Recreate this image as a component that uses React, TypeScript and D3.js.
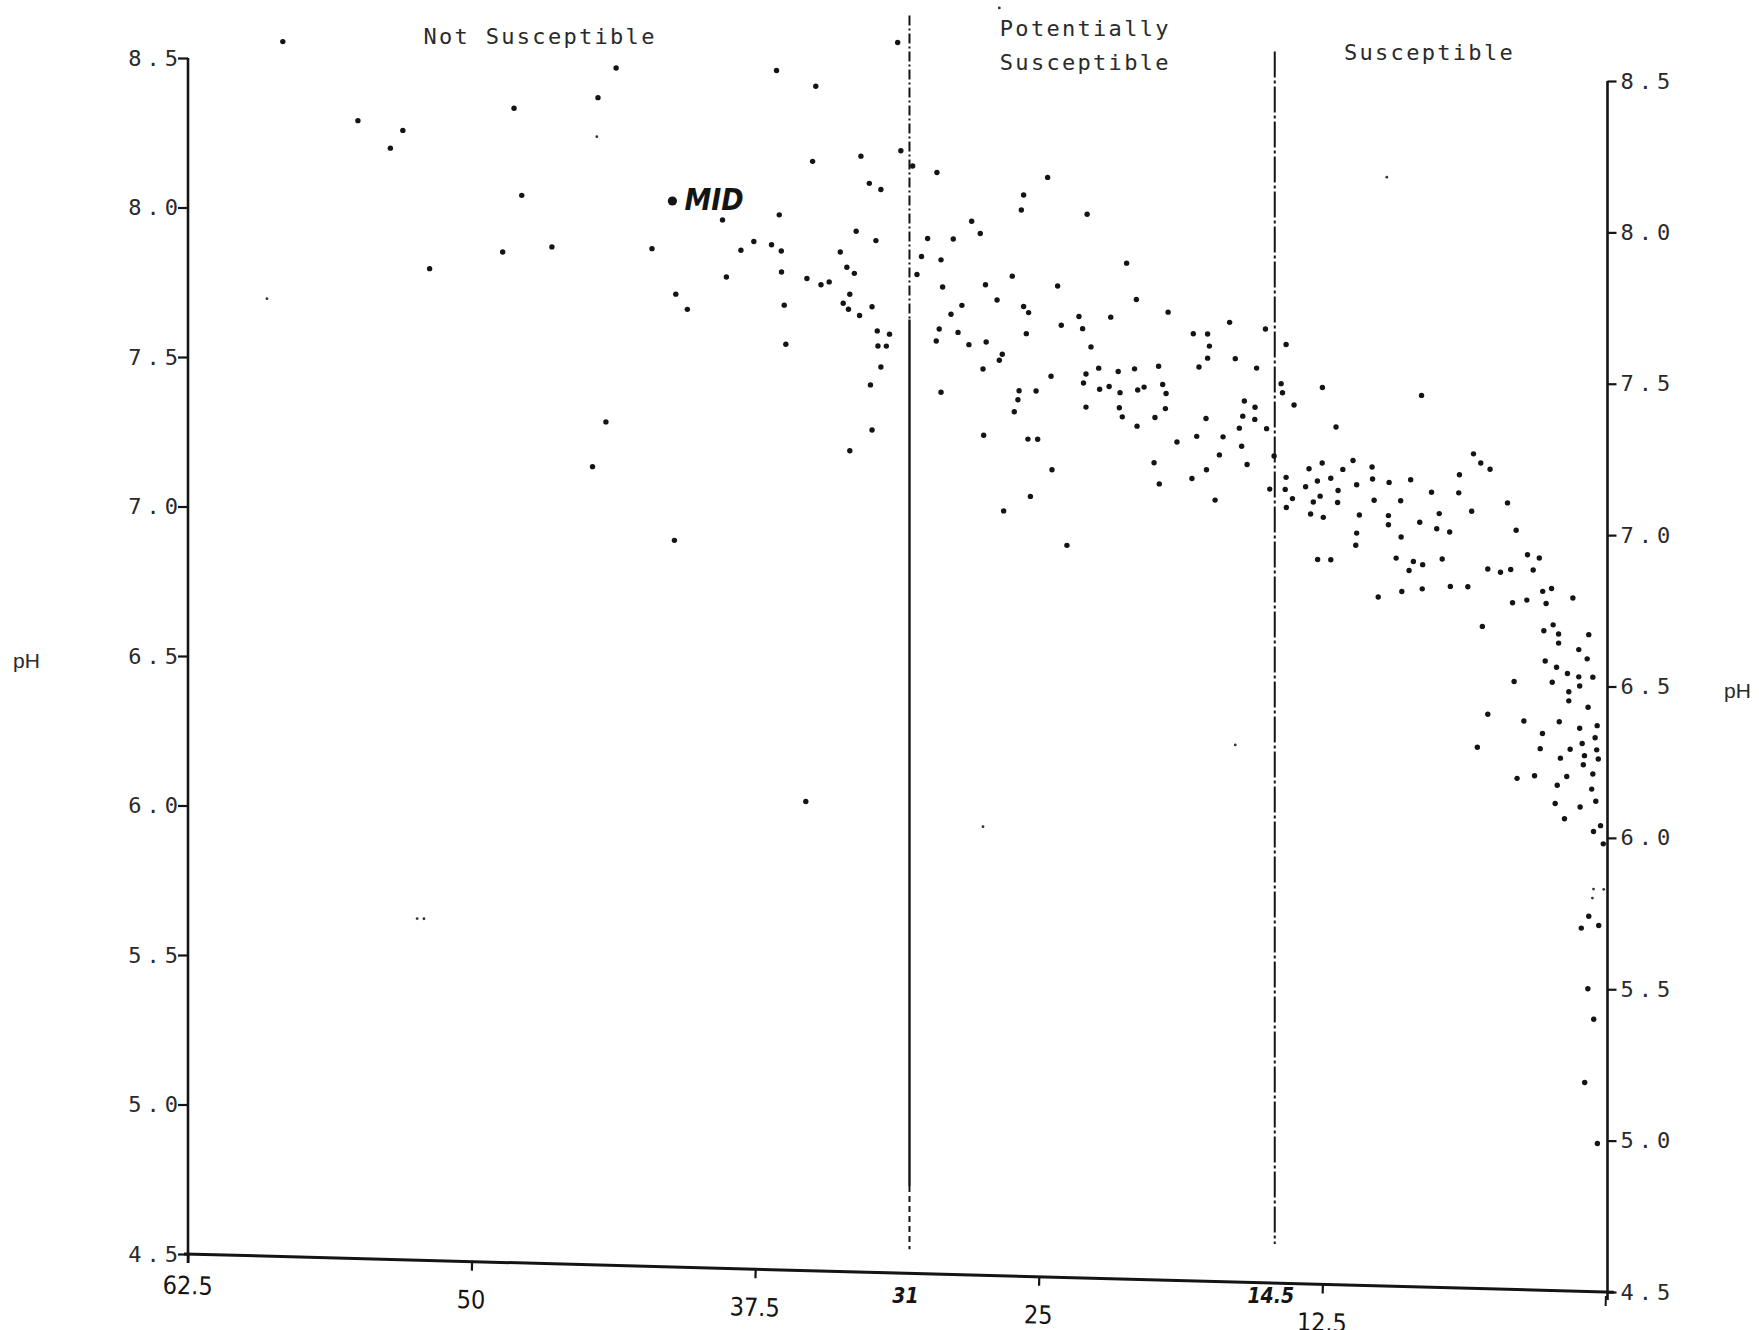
import React, { useEffect, useRef } from 'react';
import * as d3 from 'd3';

const WIDTH = 1759;
const HEIGHT = 1330;
const INK = '#141414';
const MONO = '"DejaVu Sans Mono", monospace';
const COND = '"DejaVu Sans Condensed", "Liberation Sans Narrow", sans-serif';

// samples: [x value (62.5 on the left down to 0 on the right), pH]
const samplesLeft: [number, number][] = [
  [58.32, 8.56], [55.01, 8.3], [53.58, 8.21], [53.03, 8.27], [51.85, 7.81], [48.13, 8.35],
  [47.79, 8.06], [48.63, 7.87], [46.46, 7.89], [44.43, 8.39], [43.63, 8.49], [44.08, 7.31],
  [44.67, 7.16], [41.06, 6.92], [35.27, 6.06], [31.22, 8.59], [36.56, 8.49], [34.83, 8.44],
  [42.05, 7.89], [41.0, 7.74], [40.49, 7.69], [38.94, 7.99], [38.77, 7.8], [38.13, 7.89],
  [37.56, 7.92], [36.78, 7.91], [36.44, 8.01], [36.35, 7.89], [36.34, 7.82], [36.22, 7.71],
  [36.15, 7.58], [35.22, 7.8], [34.97, 8.19], [34.6, 7.78], [34.24, 7.79], [33.75, 7.89],
  [33.62, 7.72], [33.46, 7.84], [33.39, 7.7], [33.33, 7.75], [33.13, 7.82], [33.05, 7.96],
  [32.9, 7.68], [32.84, 8.21], [32.47, 8.12], [32.35, 7.71], [32.18, 7.93], [32.12, 7.63],
  [32.09, 7.58], [31.96, 8.1], [31.96, 7.51], [31.72, 7.58], [31.58, 7.62], [32.42, 7.45],
  [32.35, 7.3], [33.33, 7.23],
];

const samplesMiddle: [number, number][] = [
  [31.08, 8.23], [30.56, 8.18], [30.37, 7.82], [30.17, 7.88], [29.9, 7.94], [29.49, 8.16],
  [29.39, 7.64], [29.52, 7.6], [29.31, 7.87], [29.24, 7.78], [29.31, 7.43], [28.87, 7.69],
  [28.77, 7.94], [28.56, 7.63], [28.39, 7.72], [28.08, 7.59], [27.96, 8.0], [27.58, 7.96],
  [27.46, 7.51], [27.43, 7.29], [27.35, 7.79], [27.32, 7.6], [26.84, 7.74], [26.74, 7.54],
  [26.61, 7.56], [26.55, 7.04], [26.17, 7.82], [26.08, 7.37], [25.92, 7.41], [25.87, 7.44],
  [25.77, 8.04], [25.67, 8.09], [25.67, 7.72], [25.55, 7.63], [25.45, 7.7], [25.48, 7.28],
  [25.37, 7.09], [25.12, 7.44], [25.05, 7.28], [24.61, 8.15], [24.46, 7.49], [24.42, 7.18],
  [24.17, 7.79], [24.01, 7.66], [23.23, 7.69], [23.07, 7.65], [22.87, 8.03], [22.7, 7.59],
  [22.92, 7.5], [23.03, 7.47], [22.92, 7.39], [22.36, 7.52], [22.32, 7.45], [23.76, 6.93],
  [21.13, 7.87], [21.83, 7.69], [20.7, 7.75], [19.3, 7.71], [18.19, 7.64], [17.56, 7.64],
  [17.48, 7.6], [17.56, 7.56], [17.94, 7.53], [16.59, 7.68], [16.34, 7.56], [15.01, 7.66],
  [15.4, 7.53], [14.1, 7.61], [14.32, 7.48], [14.26, 7.45], [13.75, 7.41], [12.5, 7.47],
  [8.13, 7.45], [11.9, 7.34], [21.5, 7.51], [20.78, 7.52], [19.72, 7.53], [21.9, 7.46],
  [21.42, 7.44], [20.64, 7.45], [20.36, 7.46], [19.54, 7.47], [19.39, 7.44], [21.45, 7.39],
  [21.32, 7.36], [20.67, 7.33], [19.88, 7.36], [19.42, 7.39], [18.91, 7.28], [19.92, 7.21],
  [19.69, 7.14], [18.04, 7.3], [17.63, 7.36], [16.88, 7.3], [17.04, 7.24], [17.61, 7.19],
  [18.25, 7.16], [17.23, 7.09], [15.94, 7.42], [16.01, 7.37], [15.47, 7.4], [15.48, 7.36],
  [16.16, 7.33], [16.06, 7.27], [15.82, 7.21], [14.96, 7.33], [14.63, 7.24], [14.82, 7.13],
];

const samplesRight: [number, number][] = [
  [14.1, 7.17], [14.14, 7.13], [13.82, 7.1], [14.09, 7.07], [13.24, 7.14], [13.09, 7.2],
  [12.72, 7.16], [12.51, 7.22], [12.13, 7.17], [11.81, 7.13], [11.6, 7.2], [11.15, 7.23],
  [10.99, 7.15], [10.31, 7.21], [10.29, 7.17], [9.56, 7.16], [8.61, 7.17], [10.22, 7.1],
  [9.05, 7.1], [7.69, 7.13], [6.46, 7.19], [6.49, 7.13], [7.35, 7.06], [7.46, 7.01],
  [6.89, 7.0], [8.21, 7.03], [9.59, 7.05], [9.59, 7.02], [9.03, 6.98], [10.87, 7.05],
  [10.99, 6.99], [11.03, 6.95], [11.83, 7.09], [12.6, 7.11], [12.46, 7.04], [12.9, 7.09],
  [13.02, 7.05], [5.84, 7.26], [5.52, 7.23], [5.11, 7.21], [5.92, 7.07], [4.34, 7.1],
  [3.96, 7.01], [3.46, 6.93], [2.94, 6.92], [3.21, 6.88], [4.2, 6.88], [4.65, 6.87],
  [5.21, 6.88], [6.09, 6.82], [2.79, 6.81], [2.4, 6.82], [2.64, 6.77], [1.46, 6.79],
  [3.49, 6.78], [4.12, 6.77], [5.45, 6.69], [2.74, 6.68], [2.33, 6.7], [2.09, 6.67],
  [2.09, 6.64], [0.76, 6.67], [1.2, 6.62], [0.83, 6.59], [2.68, 6.58], [2.18, 6.56],
  [1.7, 6.54], [1.2, 6.53], [0.58, 6.53], [2.37, 6.51], [1.16, 6.5], [1.64, 6.48],
  [1.64, 6.45], [0.79, 6.43], [4.05, 6.51], [5.21, 6.4], [3.62, 6.38], [2.06, 6.38],
  [1.16, 6.36], [0.39, 6.37], [2.8, 6.34], [0.48, 6.33], [5.67, 6.29], [2.9, 6.29],
  [1.58, 6.29], [1.05, 6.31], [0.41, 6.29], [2.01, 6.26], [0.95, 6.27], [0.34, 6.26],
  [1.0, 6.24], [3.92, 6.19], [3.15, 6.2], [1.73, 6.2], [0.58, 6.21], [12.71, 6.9],
  [12.13, 6.9], [10.04, 6.78], [9.0, 6.8], [8.1, 6.81], [9.25, 6.91], [8.49, 6.9],
  [8.68, 6.87], [8.08, 6.89], [7.22, 6.91], [6.86, 6.82], [2.15, 6.17], [0.63, 6.16],
  [2.24, 6.11], [1.14, 6.1], [0.45, 6.12], [1.83, 6.06], [0.24, 6.04], [0.55, 6.02],
  [0.12, 5.98], [0.76, 5.74], [1.09, 5.7], [0.32, 5.71], [0.8, 5.5], [0.54, 5.4],
  [0.94, 5.19], [0.38, 4.99],
];

// faint specks in the scan
const faintSamples: [number, number][] = [
  [59.02, 7.7], [44.48, 8.26], [52.4, 5.64], [52.1, 5.64], [27.46, 5.99], [16.34, 6.28],
  [9.66, 8.17], [26.74, 8.71], [0.55, 5.83], [0.1, 5.83], [0.6, 5.8],
];

const midPoint: [number, number] = [41.15, 8.05];

const phTicks = [4.5, 5.0, 5.5, 6.0, 6.5, 7.0, 7.5, 8.0, 8.5];
const xTicks = [62.5, 50, 37.5, 25, 12.5];

const cutoffs = [
  { value: 30.7, label: '31', top: 8.68, solidTop: 7.67, solidBottom: 4.79, bottom: 4.58 },
  { value: 14.6, label: '14.5', top: 8.58, solidTop: 8.58, solidBottom: 8.58, bottom: 4.63 },
];

const zones = [
  { lines: ['Not Susceptible'], center: 46.98 },
  { lines: ['Potentially', 'Susceptible'], center: 22.95 },
  { lines: ['Susceptible'], center: 7.78 },
];
const zoneTop = [44, 36, 60];

const App = () => {
  const svgRef = useRef<SVGSVGElement | null>(null);

  useEffect(() => {
    const svg = d3.select(svgRef.current);
    svg.selectAll('*').remove();

    const x = d3.scaleLinear().domain([62.5, 0]).range([188, 1606]);
    const yLeft = d3.scaleLinear().domain([4.5, 8.5]).range([1254, 58]);
    const yRight = d3.scaleLinear().domain([4.5, 8.5]).range([1292, 81]);
    const across = d3.scaleLinear().domain([62.5, 0]).range([0, 1]);

    // the scanned page is slightly skewed: blend left and right pH scales
    const py = (v: number, ph: number) =>
      d3.interpolateNumber(yLeft(ph), yRight(ph))(across(v));

    const [x0, x1] = x.range();
    const fmt = d3.format('.1f');

    // left pH axis
    svg.append('line')
      .attr('x1', x0).attr('x2', x0)
      .attr('y1', yLeft(8.5)).attr('y2', yLeft(4.5) + 9)
      .attr('stroke', INK).attr('stroke-width', 2.6);
    const gl = svg.append('g')
      .attr('transform', `translate(${x0},0)`)
      .call(d3.axisLeft(yLeft).tickValues(phTicks).tickFormat((d) => fmt(+d)).tickSize(10));
    gl.select('.domain').remove();
    gl.selectAll('line').attr('stroke', INK).attr('stroke-width', 2.2);
    gl.selectAll('text')
      .attr('x', -5)
      .attr('font-family', MONO).attr('font-size', 22)
      .attr('letter-spacing', 5).attr('fill', '#2a2a2a');

    // right pH axis
    svg.append('line')
      .attr('x1', x1 + 1.5).attr('x2', x1 + 1.5)
      .attr('y1', yRight(8.5)).attr('y2', yRight(4.5) + 8)
      .attr('stroke', INK).attr('stroke-width', 2.6);
    const gr = svg.append('g')
      .attr('transform', `translate(${x1 + 1.5},0)`)
      .call(d3.axisRight(yRight).tickValues(phTicks).tickFormat((d) => fmt(+d)).tickSize(9).tickPadding(4));
    gr.select('.domain').remove();
    gr.selectAll('line').attr('stroke', INK).attr('stroke-width', 2.2);
    gr.selectAll('text')
      .attr('font-family', MONO).attr('font-size', 22)
      .attr('letter-spacing', 5).attr('fill', '#2a2a2a');

    // bottom axis, running along the skewed baseline
    const bx0 = x0;
    const by0 = py(62.5, 4.5);
    const by1 = py(0, 4.5);
    const len = Math.hypot(x1 - x0, by1 - by0);
    const angle = (Math.atan2(by1 - by0, x1 - x0) * 180) / Math.PI;
    const xAlong = d3.scaleLinear().domain([62.5, 0]).range([0, len]);
    const gb = svg.append('g')
      .attr('transform', `translate(${bx0},${by0}) rotate(${angle})`)
      .call(d3.axisBottom(xAlong).tickValues(xTicks).tickFormat((d) => `${d}`).tickSize(9).tickPadding(20));
    gb.select('.domain').remove();
    gb.append('line')
      .attr('x1', -4).attr('x2', len + 8)
      .attr('stroke', INK).attr('stroke-width', 3);
    gb.append('line')
      .attr('x1', len).attr('x2', len).attr('y1', 4).attr('y2', 14)
      .attr('stroke', INK).attr('stroke-width', 2);
    gb.selectAll('.tick line').attr('stroke', INK).attr('stroke-width', 2.2);
    gb.selectAll('.tick text')
      .attr('dy', (d) => (d === 62.5 ? '0.45em' : '0.71em'))
      .attr('font-family', COND).attr('font-size', 25)
      .attr('fill', INK);

    // cut-off lines between zones
    cutoffs.forEach((c) => {
      const cx = x(c.value);
      const seg = (a: number, b: number, dash: string | null, w: number) => {
        if (a === b) return;
        svg.append('line')
          .attr('x1', cx).attr('x2', cx)
          .attr('y1', py(c.value, a)).attr('y2', py(c.value, b))
          .attr('stroke', INK).attr('stroke-width', w)
          .attr('stroke-dasharray', dash);
      };
      if (c.solidTop === c.solidBottom) {
        seg(c.top, c.bottom, '26 3 3 3', 2);
      } else {
        seg(c.top, c.solidTop, '10 3 2 3', 2);
        seg(c.solidTop, c.solidBottom, null, 2.4);
        seg(c.solidBottom, c.bottom, '6 4', 2);
      }
      svg.append('text')
        .attr('x', cx - 4).attr('y', 1303)
        .attr('text-anchor', 'middle')
        .attr('font-family', COND).attr('font-size', 21)
        .attr('font-weight', 'bold').attr('font-style', 'italic')
        .attr('fill', INK)
        .text(c.label);
    });

    // zone titles
    zones.forEach((z, i) => {
      z.lines.forEach((line, j) => {
        svg.append('text')
          .attr('x', x(z.center)).attr('y', zoneTop[i] + j * 34)
          .attr('text-anchor', 'middle')
          .attr('font-family', MONO).attr('font-size', 22)
          .attr('letter-spacing', 2.3).attr('fill', '#2a2a2a')
          .text(line);
      });
    });

    // pH labels
    svg.append('text')
      .attr('x', 13).attr('y', 668)
      .attr('font-family', '"Liberation Sans", sans-serif').attr('font-size', 21)
      .attr('fill', '#2a2a2a').text('pH');
    svg.append('text')
      .attr('x', 1724).attr('y', 698)
      .attr('font-family', '"Liberation Sans", sans-serif').attr('font-size', 21)
      .attr('fill', '#2a2a2a').text('pH');

    // sample points
    const all = [...samplesLeft, ...samplesMiddle, ...samplesRight];
    svg.append('g')
      .selectAll('circle')
      .data(all)
      .enter()
      .append('circle')
      .attr('cx', (d) => x(d[0]))
      .attr('cy', (d) => py(d[0], d[1]))
      .attr('r', 2.7)
      .attr('fill', INK);
    svg.append('g')
      .selectAll('circle')
      .data(faintSamples)
      .enter()
      .append('circle')
      .attr('cx', (d) => x(d[0]))
      .attr('cy', (d) => py(d[0], d[1]))
      .attr('r', 1.4)
      .attr('fill', '#333');

    // handwritten MID marker
    const mx = x(midPoint[0]);
    const my = py(midPoint[0], midPoint[1]);
    svg.append('circle').attr('cx', mx).attr('cy', my).attr('r', 4.6).attr('fill', INK);
    svg.append('text')
      .attr('x', mx + 12).attr('y', my + 9)
      .attr('font-family', COND).attr('font-size', 30)
      .attr('font-weight', 'bold').attr('font-style', 'italic')
      .attr('fill', INK)
      .text('MID');
  }, []);

  return (
    <svg
      ref={svgRef}
      width={WIDTH}
      height={HEIGHT}
      style={{ position: 'absolute', left: 0, top: 0, background: '#fff' }}
    />
  );
};

export default App;
